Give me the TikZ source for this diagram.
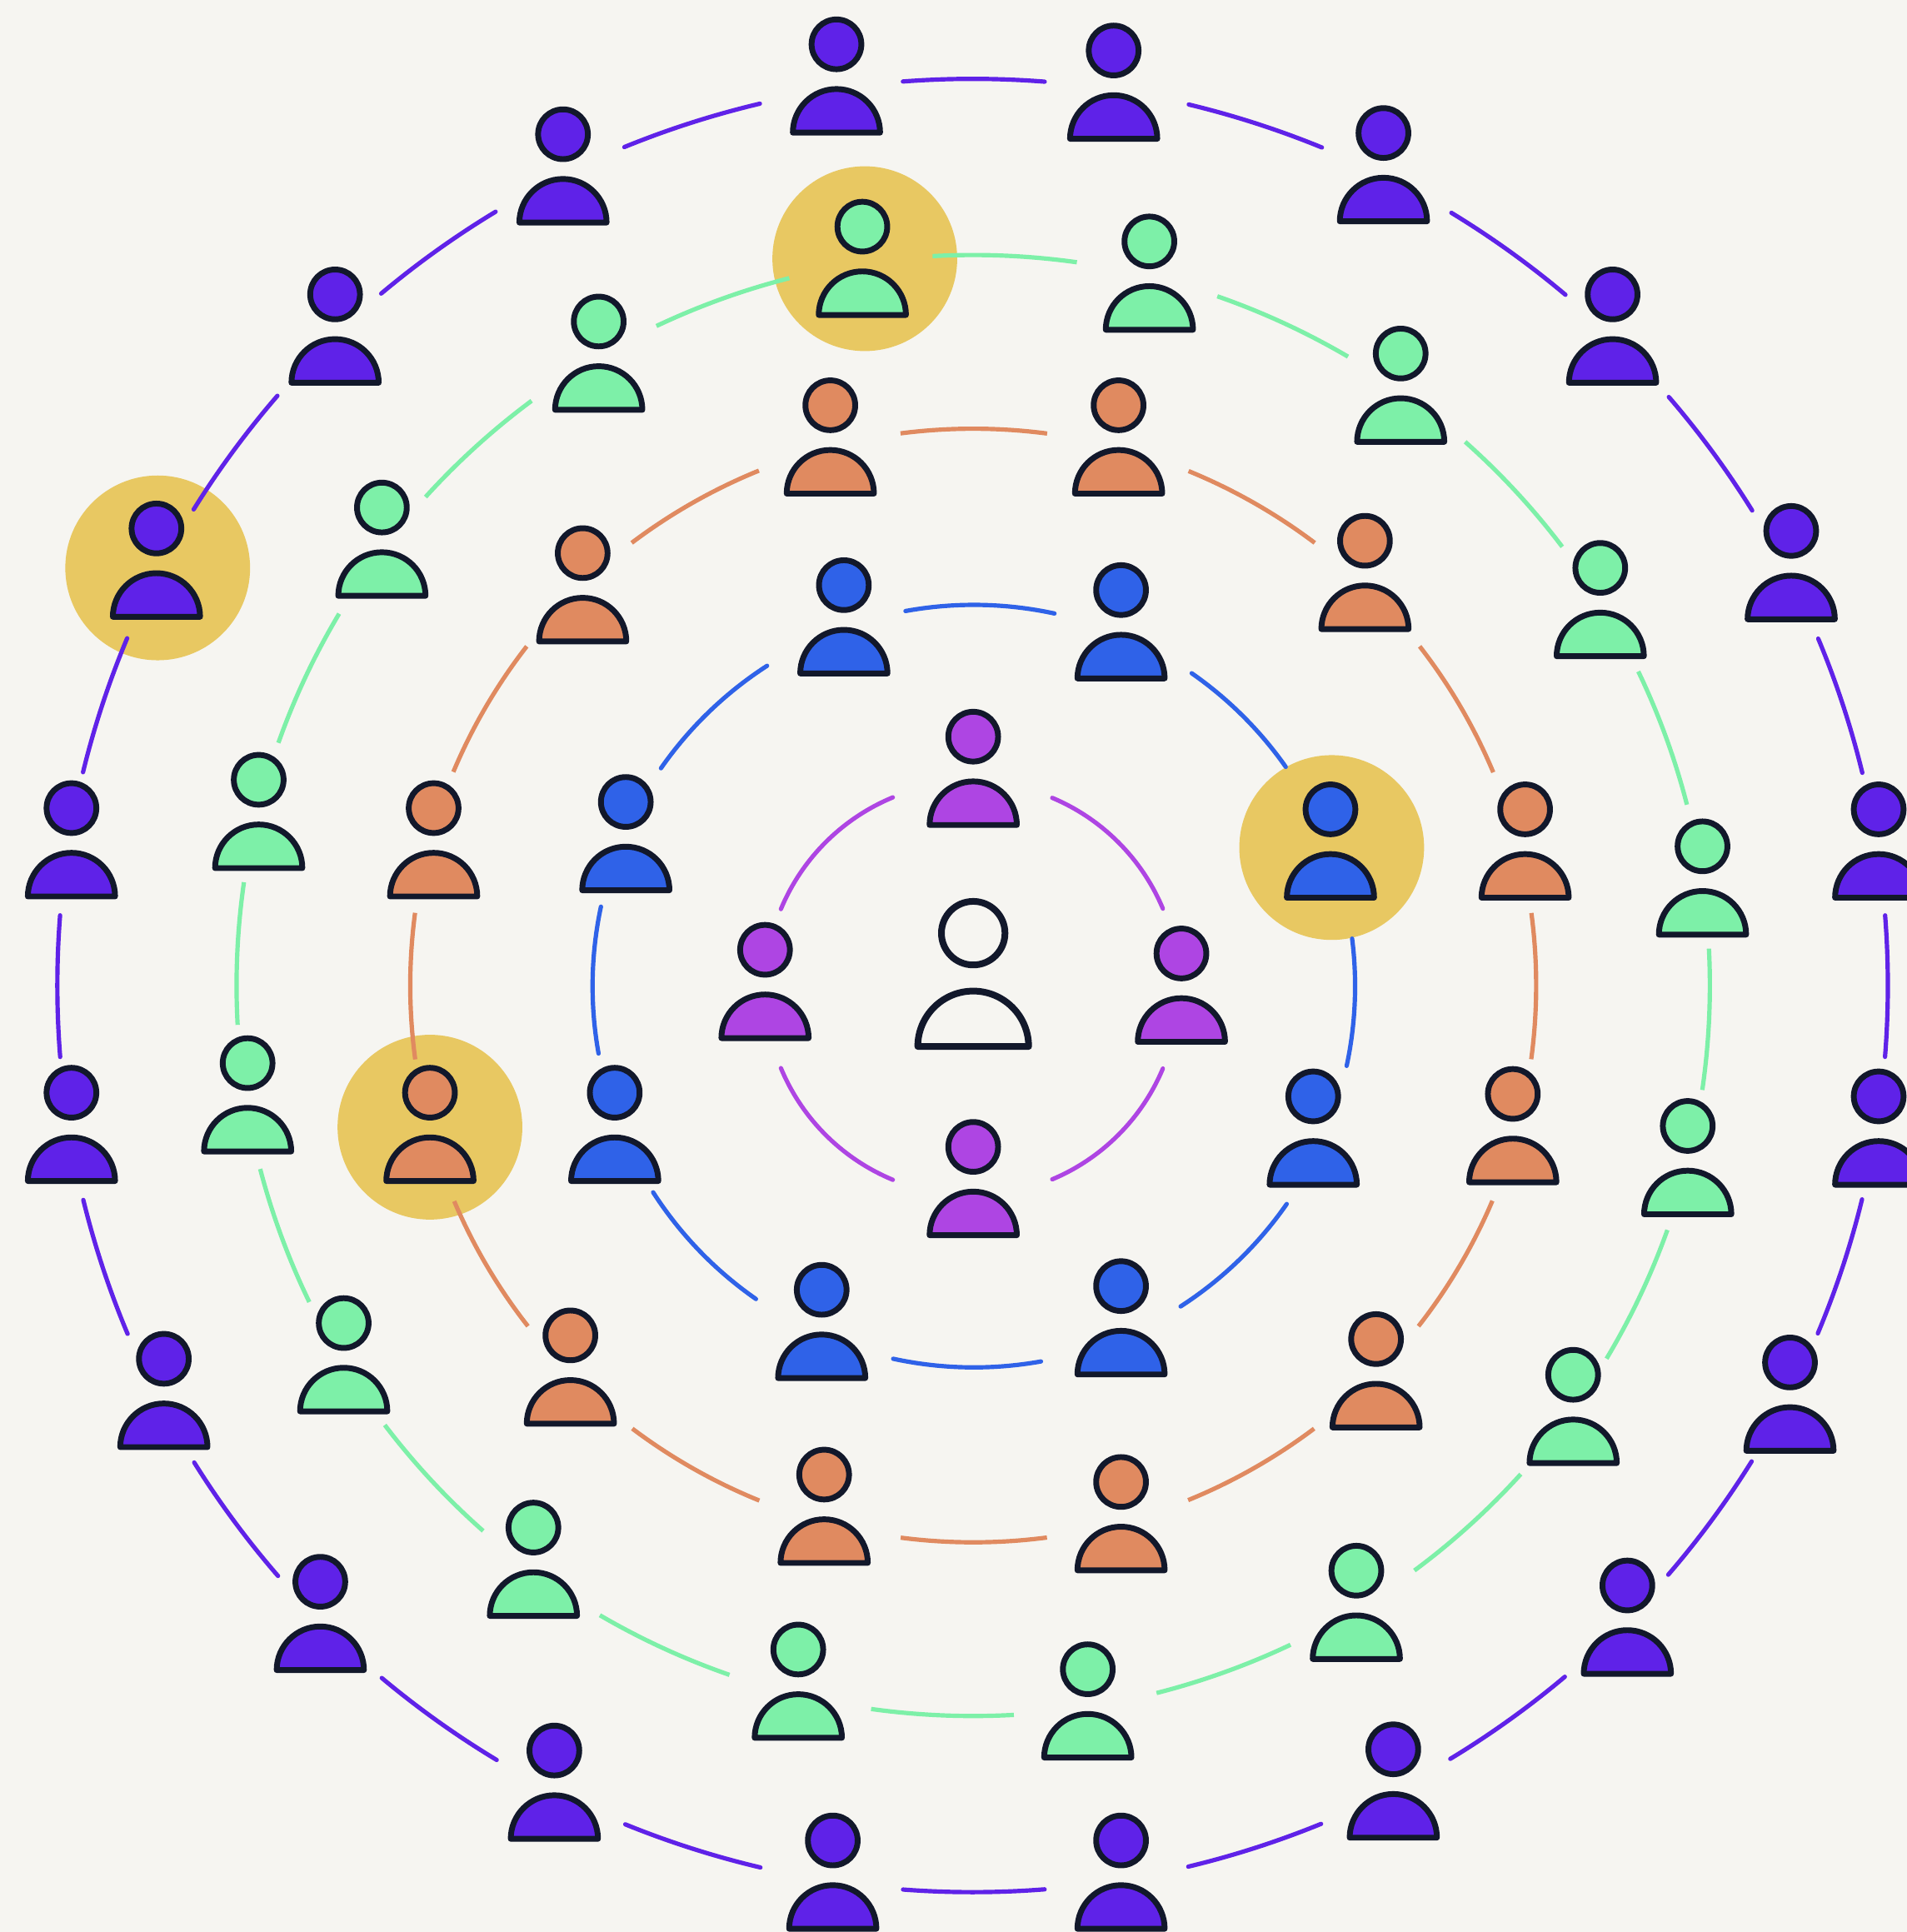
\documentclass[tikz,border=0pt]{standalone}
\definecolor{bgc}{HTML}{F6F5F1}
\definecolor{ink}{HTML}{12182B}
\definecolor{halo}{HTML}{E8C862}
\definecolor{cmag}{HTML}{AE45E3}
\definecolor{cblue}{HTML}{2F62E8}
\definecolor{corange}{HTML}{E08A60}
\definecolor{cgreen}{HTML}{7DF0A8}
\definecolor{cdeep}{HTML}{5F22E8}
\tikzset{
  headn/.style={circle,draw=ink,line width=2.35pt,minimum size=20.2pt,inner sep=0pt},
  bodyp/.style={draw=ink,line width=2.35pt,line join=round},
  centerhead/.style={circle,draw=ink,line width=2.7pt,minimum size=25.8pt,inner sep=0pt,fill=bgc},
  centerbody/.style={draw=ink,line width=2.7pt,line join=round,fill=bgc},
  halodisc/.style={circle,fill=halo,minimum size=75pt,inner sep=0pt,draw=none},
  ringline/.style={line width=1.75pt,draw=#1},
}
% coordinates: reference px (y down) on a 1548 x 1568.3 canvas, 1 unit = 0.5pt
\newcommand\HH{1568.3}
\newcommand\setring[4]{\def\rcx{#1}\def\rcy{#2}\def\rrx{#3}\def\rry{#4}}
\newcommand\ringarc[5]{%
  \pgfmathsetmacro\ta{atan2((\rcy-#3)/\rry,(#2-\rcx)/\rrx)}%
  \pgfmathsetmacro\tb{atan2((\rcy-#5)/\rry,(#4-\rcx)/\rrx)}%
  \pgfmathsetmacro\tb{(\tb-\ta>180)?(\tb-360):((\tb-\ta<-180)?(\tb+360):\tb)}%
  \pgfmathsetmacro\rxpt{\rrx*0.5}\pgfmathsetmacro\rypt{\rry*0.5}%
  \draw[#1] ({\rcx+\rrx*cos(\ta)},{\HH-\rcy+\rry*sin(\ta)})
    arc[start angle=\ta,end angle=\tb,x radius=\rxpt pt,y radius=\rypt pt];%
}
\newcommand\person[4]{%
  \node[headn,fill=#4] (#1) at (#2,\HH-#3) {};
  \draw[bodyp,fill=#4] (#2-35.4,\HH-#3-71.7) arc[start angle=180,end angle=0,radius=17.7pt] -- cycle;%
}
\begin{document}
\begin{tikzpicture}[x=0.5pt,y=0.5pt]
\useasboundingbox (0,0) rectangle (1548,\HH);
\clip (0,0) rectangle (1548,\HH);
\fill[bgc] (0,0) rectangle (1548,\HH);
% highlight discs
\node[halodisc] (haloA) at (702,\HH-210) {};
\node[halodisc] (haloB) at (128,\HH-461) {};
\node[halodisc] (haloC) at (1081,\HH-688) {};
\node[halodisc] (haloD) at (349,\HH-915) {};
% rings
\setring{789}{802.5}{168}{168}
\foreach \a/\b/\c/\d in {854/648/943/738,943/867/854/957,725/957/634/867,634/738/725/648}
  {\ringarc{ringline=cmag,line cap=round}{\a}{\b}{\c}{\d}}
\setring{790.5}{800.5}{309.5}{309.5}
\foreach \a/\b/\c/\d in {735/496/856/498,967/547/1043/623,1097/762/1092/865,1044/977/958/1060,845/1105/725/1103,614/1054/530/968,487/855/488/736,537/624/623/541}
  {\ringarc{ringline=cblue,line cap=round}{\a}{\b}{\c}{\d}}
\setring{790}{800}{457}{452}
\foreach \a/\b/\c/\d in {731/352/850/352,965/382/1067/441,1152/525/1212/627,1244/741/1244/860,1212/975/1152/1077,1067/1160/965/1219,850/1249/731/1249,616/1219/513/1160,428/1077/369/975,337/860/337/741,369/627/428/525,513/441/616/382}
  {\ringarc{ringline=corange}{\a}{\b}{\c}{\d}}
\setring{790}{800}{598}{593}
\foreach \a/\b/\c/\d in {757/208/874/214,988/241/1094/290,1189/359/1268/444,1330/545/1370/653,1388/770/1383/885,1355/999/1306/1104,1236/1198/1149/1276,1048/1336/939/1375,823/1392/707/1388,592/1360/487/1311,392/1243/312/1157,251/1057/211/949,192/832/197/716,226/603/275/498,346/404/432/326,533/265/641/227}
  {\ringarc{ringline=cgreen}{\a}{\b}{\c}{\d}}
\setring{789.5}{800}{743}{736}
\foreach \a/\b/\c/\d in {733/67/848/67,965/85/1073/120,1178/173/1271/239,1355/322/1423/414,1477/518/1513/627,1531/743/1531/858,1513/974/1477/1083,1423/1187/1355/1279,1271/1362/1178/1429,1073/1482/965/1517,848/1534/733/1534,617/1517/507/1482,403/1429/310/1362,226/1279/158/1187,103/1083/68/974,49/858/49/743,68/627/103/518,158/414/226/322,310/239/403/173,507/120/617/85}
  {\ringarc{ringline=cdeep,line cap=round}{\a}{\b}{\c}{\d}}
% centre person
\node[centerhead] (centre) at (790,\HH-757.5) {};
\draw[centerbody] (745,\HH-849.5) arc[start angle=180,end angle=0,radius=22.5pt] -- cycle;
% people
\foreach \x/\y [count=\i] in {790/598,621/771,959/774,790/931}
  {\person{m\i}{\x}{\y}{cmag}}
\foreach \x/\y [count=\i] in {685/475,910/479,1080/657,1066/890,910/1044,667/1047,499/887,508/651}
  {\person{b\i}{\x}{\y}{cblue}}
\foreach \x/\y [count=\i] in {674/329,908/329,1108/439,1238/657,1228/888,1117/1087,910/1203,669/1197,463/1084,349/887,352/656,473/449}
  {\person{o\i}{\x}{\y}{corange}}
\foreach \x/\y [count=\i] in {700/184,933/196,1137/287,1299/461,1382/687,1370/914,1277/1116,1101/1275,883/1355,648/1339,433/1240,279/1074,201/863,210/633,310/412,486/261}
  {\person{g\i}{\x}{\y}{cgreen}}
\foreach \x/\y [count=\i] in {679/36,904/41,1123/108,1309/239,1454/431,1525/657,1525/890,1453/1106,1321/1287,1131/1420,910/1494,676/1494,450/1421,260/1284,133/1103,58/887,58/656,127/429,272/239,457/109}
  {\person{d\i}{\x}{\y}{cdeep}}
\end{tikzpicture}
\end{document}
